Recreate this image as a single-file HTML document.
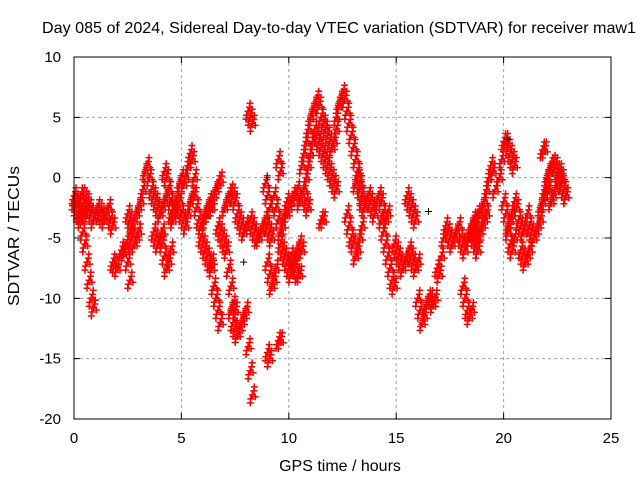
<!DOCTYPE html>
<html><head><meta charset="utf-8"><style>
html,body{margin:0;padding:0;background:#fff}
svg{display:block;font-family:"Liberation Sans",sans-serif}
</style></head><body>
<svg id="chart" width="640" height="480" viewBox="0 0 640 480" xmlns="http://www.w3.org/2000/svg">
<rect x="0" y="0" width="640" height="480" fill="#fff"/>
<text x="339" y="33" font-size="16" text-anchor="middle" textLength="594" lengthAdjust="spacingAndGlyphs">Day 085 of 2024, Sidereal Day-to-day VTEC variation (SDTVAR) for receiver maw1</text>
<g id="grid"></g>
<g id="ticks"></g>
<g id="marks"></g>
<rect x="74" y="57" width="537" height="362" fill="none" stroke="#000" stroke-width="1"/>
<text x="340" y="471" font-size="16" text-anchor="middle">GPS time / hours</text>
<text transform="translate(19,236) rotate(-90)" font-size="16" text-anchor="middle" textLength="140" lengthAdjust="spacingAndGlyphs">SDTVAR / TECUs</text>
</svg>
<script>
const xTicks = [0, 5, 10, 15, 20, 25];
const yTicks = [10, 5, 0, -5, -10, -15, -20];
const trackStarts = [0.0,0.0,0.3,1.8,2.2,2.5,2.6,3.7,4.1,4.2,4.5,5.2,5.9,6.2,6.4,6.7,7.0,7.3,8.1,8.1,8.2,8.9,9.0,9.3,9.5,9.6,9.0,9.5,9.9,10.1,10.6,10.8,11.5,12.2,12.7,13.1,14.3,14.9,15.5,16.0,16.9,18.1,18.4,18.6,19.8,20.0,20.2,20.8,21.2,21.7,21.8,21.9,22.0];
const trackValues = [
[-2,-2.5,-3,-3.5,-4.5,-5.5,-7,-8.5,-10,-10.8],
[-1.5,-2,-2.8,-3,-3.2,-3,-2.5,-2.5,-3,-3.5,-3,-2.5,-2.8,-3.2,-3.5,-3,-2.5,-3.5,-4],
[-1.5,-1.5,-1.8,-2],
[-7,-7.2,-7.5],
[-6,-6.2,-5.8,-7,-8.5],
[-3,-3.5,-4,-3.5,-3,-2.5,-2,-1,0.5,1,0,-1,-1.5,-2,-2.5,-3,-2.5,-2,-1.5,-1],
[-4.5,-5,-5.5,-5,-4.5],
[-4.5,-5,-5.5,-5,-4.5],
[-5.5,-6.5,-7.5,-7,-6],
[0.5,0,-1,-2,-3,-2.5,-1.5,-0.5,0,-0.5],
[-3,-3.5,-3,-2.5,-2,-3,-3.5,-4,-3,-2,-1.5,-1.5,-2.5,-3.5,-4,-3.5,-3,-2.5,-2,-2.5],
[0,1,2,1.5,0],
[-5,-5.5,-6,-6.5,-7,-7],
[-3,-2.5,-2,-1.5,-1,-0.5,-0.2],
[-7.5,-9,-10,-11,-12],
[-4,-4.5,-5,-5.5,-6,-7.5,-9,-10.5,-11],
[-2.5,-2,-1.5,-1.2,-1.5,-2,-3,-3.5,-4,-4.5,-4],
[-11,-12,-12.5,-13,-12.5,-12,-11.5,-11],
[-14,-16,-18],
[5.5,5,4.5],
[-3.5,-4,-4.5,-5,-5,-4.5,-4,-3.5,-4,-4.5,-5],
[-0.5,-1.5,-2.5],
[-7,-8,-9,-8.5,-7.5],
[-1.5,-2.5,-3.5,-4.5,-4,-3,-2],
[1.5,0.5],
[-5.5,-6,-6.5,-7,-7.5,-8,-7,-6.5,-6,-5.5,-6],
[-14.5,-15],
[-13.5,-13.5],
[-3,-2.5,-2,-1.5,-1.5,-1,-2,-1.5,-1,-2,-2.5],
[-6.5,-7,-7.5,-8,-8],
[1,2,3,4,5,5.5,6,6.5,6,5,4.5,4,3.5,3,2.5,3,4],
[0,1,2,3,4,3.5,3,2.5,2,1.5,1,0.5,0,-0.5,-1],
[-3.5,-3.5],
[5,6,6.5,7,6.5,5.5,4.5,3.5,2.5,1.5,0.5,-0.5,-1.5],
[-3,-4,-5,-5.5,-6.5,-6,-5,-4],
[-0.5,0,-1,-2,-2.5,-2,-1.5,-2,-2.5,-3,-2,-1.5,-2,-3,-3.5,-3],
[-3.5,-4.5,-5.5,-6.5,-7.5,-8.5,-9],
[-5.5,-6,-6.5,-7,-7.5,-7,-6.5,-6,-6.5,-7,-7.5,-7],
[-1.5,-2,-2.5,-3,-3.5],
[-10,-11,-12,-11.5,-10.5,-10,-10,-10.5,-10],
[-7.5,-8,-6.5,-5,-4,-4.5,-5,-5.5,-5,-4.5,-4,-5,-5.5,-6,-5,-4.5,-4,-3.5,-4.5,-5],
[-9,-10,-11,-11.5,-11],
[-5,-4.5,-4,-3.5,-3,-3,-2.5,-2,-1,0,1,0.5,-1],
[-5,-5.5,-6,-4.5,-4,-3.5,-3],
[0,1.5,3,3,2.5,2,1.5,1],
[-2,-3,-4,-3.5,-3,-2,-2.5,-3.5,-4,-4.5,-4,-3],
[-4.5,-5.5,-6,-5],
[-6,-6.5,-7,-6.5,-6],
[-4,-4.5,-5,-4.5,-4,-3.5],
[-2.5,-2,-1.5,-1],
[2.3,2.3],
[-1,0,0.5,1,1.2,1,0.5,0,-0.5,-1,-1.5],
[0,-1,-2,-1.5,-1,0,0.5,0,-1,-1.5]
];
const blackTimes = [9.0, 20.2, 16.5, 7.9];
const blackValues = [0.0, 3.2, -2.8, -7.0];

const NS = "http://www.w3.org/2000/svg";
const X0 = 74, X1 = 611, Y0 = 419, Y1 = 57;
function xs(t){ return X0 + (t - 0) / 25 * (X1 - X0); }
function ys(v){ return Y0 - (v + 20) / 30 * (Y0 - Y1); }
const grid = document.getElementById('grid');
const ticks = document.getElementById('ticks');
const marks = document.getElementById('marks');
function mk(tag, attrs, parent){
  const e = document.createElementNS(NS, tag);
  for (const k in attrs) e.setAttribute(k, attrs[k]);
  parent.appendChild(e);
  return e;
}
xTicks.forEach(t => {
  const x = xs(t);
  if (t > 0 && t < 25) {
    const g = mk('line', {x1:x, x2:x, y1:Y1, y2:Y0, stroke:'#a0a0a0', 'stroke-dasharray':'3,3'}, grid);
    
    
  }
  const tk = mk('path', {d:`M${x},${Y0}v-6M${x},${Y1}v6`, stroke:'#000'}, ticks);
  
  
  const lb = mk('text', {x:x, y:443, 'font-size':15, 'text-anchor':'middle'}, ticks);
  lb.textContent = t;
  
  
});
yTicks.forEach(v => {
  const y = ys(v);
  if (v > -20 && v < 10) {
    const g = mk('line', {x1:X0, x2:X1, y1:y, y2:y, stroke:'#a0a0a0', 'stroke-dasharray':'3,3'}, grid);
    
    
  }
  const tk = mk('path', {d:`M${X0},${y}h6M${X1},${y}h-6`, stroke:'#000'}, ticks);
  
  
  const lb = mk('text', {x:61, y:y+5, 'font-size':15, 'text-anchor':'end'}, ticks);
  lb.textContent = v;
  
  
});
function plus(x, y){
  return `M${(x-3.5).toFixed(1)},${y.toFixed(1)}h7M${x.toFixed(1)},${(y-3.5).toFixed(1)}v7`;
}
trackValues.forEach((vals, i) => {
  let d = '';
  vals.forEach((v, j) => {
    const t = trackStarts[i] + j * 0.1;
    const x = xs(t), y = ys(v);
    d += plus(x, y);
    d += plus(x + 1.5, y - 4);
    d += plus(x - 1.5, y + 4);
    d += plus(x + 2, y - 8);
    d += plus(x - 2, y + 8);
    d += plus(x + 3, y + 2);
  });
  const p = mk('path', {d:d, stroke:'#ff0000', 'stroke-width':1.5, fill:'none'}, marks);
  
  
});
blackTimes.forEach((t, i) => {
  const p = mk('path', {d:plus(xs(t), ys(blackValues[i])), stroke:'#000', 'stroke-width':1, fill:'none'}, marks);
  
  
});
</script>
</body></html>
